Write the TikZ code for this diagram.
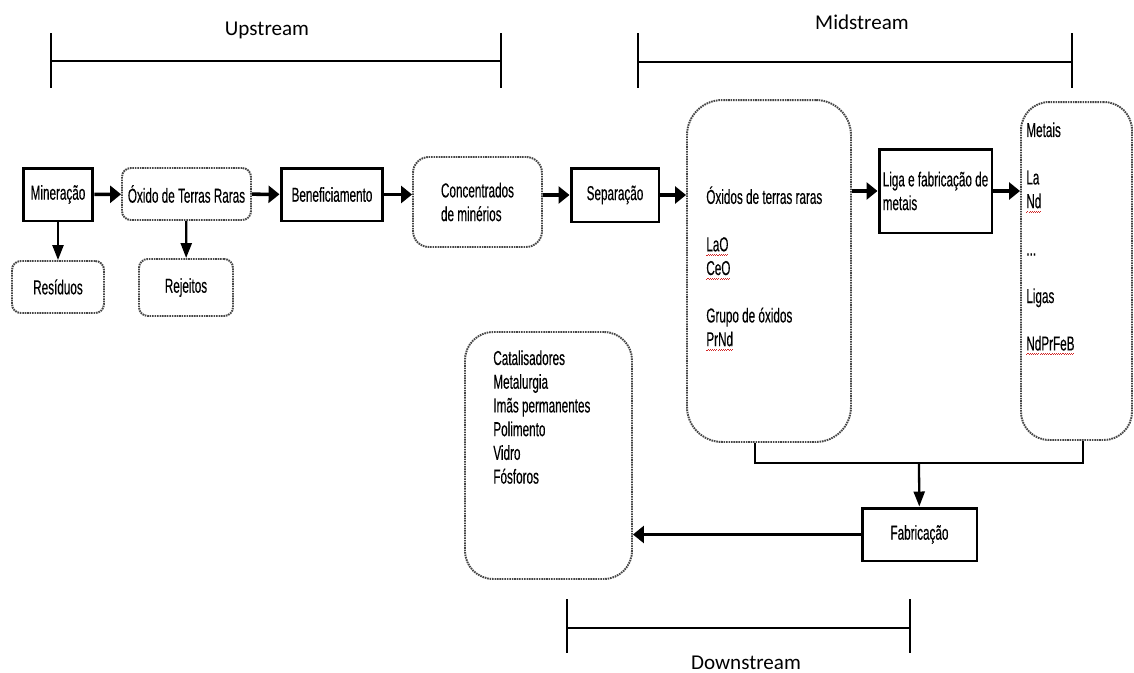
\documentclass[tikz,border=0pt]{standalone}
\usepackage{fontspec}
\newfontfamily\bodyfont{Liberation Sans}[FakeStretch=0.58, FakeBold=0.3]
\newfontfamily\spanfont{Carlito}
\usepackage{xcolor}
\definecolor{spellred}{RGB}{210,40,40}
\definecolor{dotgray}{RGB}{70,70,70}
\usepackage{tikz}
\usetikzlibrary{arrows.meta, positioning}
\newcommand{\spellmark}[1]{\setbox0\hbox{#1}\rlap{\raisebox{-2.4pt}{\textcolor{spellred}{\hbox to \wd0{\xleaders\hbox{\rule{0.6pt}{0.4pt}\raisebox{0.5pt}{\rule{0.6pt}{0.4pt}}}\hfill}}}}#1}

\begin{document}
\begin{tikzpicture}[x=0.02cm, y=-0.02cm,
  every node/.style={font=\bodyfont\fontsize{11.5}{13.5}\selectfont},
  solidbox/.style={draw, line width=1.7pt, inner sep=0pt},
  dotbox/.style={draw=dotgray, line width=1.1pt, dash pattern=on 0.9pt off 0.5pt,
                 rounded corners=5pt, inner sep=0pt},
  flow/.style={line width=2pt, -{Triangle[length=2.2mm, width=3.4mm]}},
  drop/.style={line width=1.3pt, -{Triangle[length=3mm, width=2.2mm]}},
  link/.style={line width=1.3pt},
  spanline/.style={line width=1.6pt},
  spantick/.style={line width=0.6pt},
  spanlabel/.style={font=\spanfont\fontsize{12}{14}\selectfont}]

\useasboundingbox (0,0) rectangle (1134,673);

% Stage spans
% Upstream
\coordinate (upA) at (51,61);
\coordinate (upB) at (501,61);
\draw[spanline] (upA) -- (upB);
\draw[spantick] (51,33) -- (51,88);
\draw[spantick] (501,33) -- (501,88);
\node[spanlabel] (uplab) at (267,30) {Upstream};

% Midstream
\coordinate (midA) at (638,62);
\coordinate (midB) at (1072,62);
\draw[spanline] (midA) -- (midB);
\draw[spantick] (638,33) -- (638,88);
\draw[spantick] (1072,33) -- (1072,88);
\node[spanlabel] (midlab) at (862,22) {Midstream};

% Downstream
\coordinate (downA) at (567,628);
\coordinate (downB) at (910,628);
\draw[spanline] (downA) -- (downB);
\draw[spantick] (567,599) -- (567,653);
\draw[spantick] (910,599) -- (910,653);
\node[spanlabel] (downlab) at (746,663) {Downstream};

% Upstream chain
\node[solidbox, minimum width=1.4cm, minimum height=1.06cm] (min) at (58,194.5) {Mineração};
\node[dotbox, minimum width=2.58cm, minimum height=1.04cm] (oxr) at (186.5,194) {Óxido de Terras Raras};
\node[solidbox, minimum width=2.04cm, minimum height=1.06cm] (ben) at (332,194.5) {Beneficiamento};
\node[dotbox, rounded corners=9pt, align=left, minimum width=2.58cm, minimum height=1.8cm]
  (conc) at (477.5,202) {Concentrados\\de minérios};
\node[solidbox, minimum width=1.76cm, minimum height=1.08cm] (sep) at (615,195) {Separação};

% Residues
\node[dotbox, minimum width=1.84cm, minimum height=1.04cm] (res) at (58,287) {Resíduos};
\node[dotbox, minimum width=1.88cm, minimum height=1.14cm] (rej) at (186,287.5) {Rejeitos};

% Midstream boxes
\node[dotbox, rounded corners=20pt, minimum width=3.28cm, minimum height=6.84cm] (oxb) at (769,271) {};
\node[anchor=north west, align=left, inner sep=0pt] (oxbtxt) at (706,186)
  {Óxidos de terras raras\\[13.5pt] \spellmark{LaO}\\ \spellmark{CeO}\\[13.5pt]
   Grupo de óxidos\\ \spellmark{PrNd}};
\node[solidbox, align=left, minimum width=2.26cm, minimum height=1.68cm] (liga) at (935.5,191)
  {Liga e fabricação de\\metais};
\node[dotbox, rounded corners=16pt, minimum width=2.22cm, minimum height=6.76cm] (met) at (1076.5,271) {};
\node[anchor=north west, align=left, inner sep=0pt] (mettxt) at (1026,122)
  {Metais\\[13.5pt] La\\ \spellmark{Nd}\\[13.5pt] ...\\[13.5pt] Ligas\\[13.5pt] \spellmark{NdPrFeB}};

% Downstream boxes
\node[solidbox, minimum width=2.3cm, minimum height=1.06cm] (fab) at (919.5,534.5) {Fabricação};
\node[dotbox, rounded corners=16pt, minimum width=3.34cm, minimum height=4.94cm] (apl) at (548.5,455.5) {};
\node[anchor=north west, align=left, inner sep=0pt] (apltxt) at (493,350)
  {Catalisadores\\ Metalurgia\\ Imãs permanentes\\ Polimento\\ Vidro\\ Fósforos};

% Arrows
\draw[flow] (min) -- (oxr);
\draw[flow] (oxr) -- (ben);
\draw[flow] (ben.east) -- (ben.east -| conc.west);
\draw[flow] (conc.east |- sep) -- (sep);
\draw[flow] (sep.east) -- (sep.east -| oxb.west);
\draw[flow] (oxb.east |- liga) -- (liga);
\draw[flow] (liga.east) -- (liga.east -| met.west);
\draw[drop] (min) -- (res);
\draw[drop] (oxr) -- (rej);

% Join to fabrication
\coordinate (mjoin) at (919,463);
\draw[link] ([xshift=-0.28cm]oxb.south) |- (mjoin) -| ([xshift=0.13cm]met.south);
\draw[drop] (mjoin) -- (fab);
\draw[flow] (fab.west) -- (fab.west -| apl.east);

\end{tikzpicture}
\end{document}
